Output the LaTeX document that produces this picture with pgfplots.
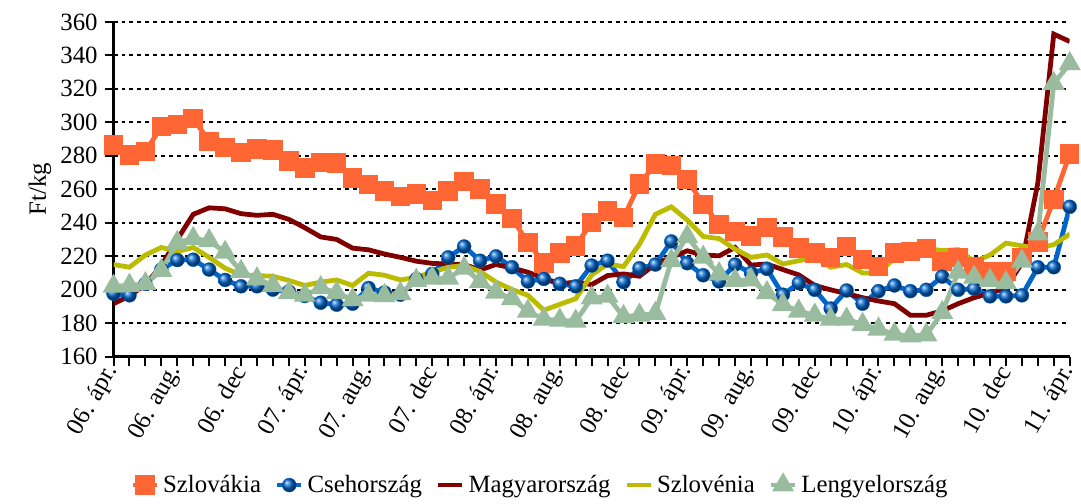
\documentclass[border=0pt]{standalone}
\usepackage{fontspec}
\setmainfont{Liberation Serif}
\usepackage{pgfplots}
\pgfplotsset{compat=1.18}
\definecolor{cSK}{RGB}{255,102,51}
\definecolor{cCZ}{RGB}{0,102,204}
\definecolor{cHU}{RGB}{128,0,0}
\definecolor{cSI}{RGB}{187,187,0}
\definecolor{cPL}{RGB}{153,187,158}
\begin{document}
\begin{tikzpicture}
\begin{axis}[width=480bp, height=168bp, scale only axis,
  font=\fontsize{12.5}{14}\selectfont,
  /pgf/number format/assume math mode=true,
  xmin=0, xmax=60, ymin=160, ymax=360,
  ytick={160,180,...,360},
  xtick={0,4,...,60},
  minor xtick={0,...,60},
  xticklabels={06. ápr.,06. aug.,06. dec,07. ápr.,07. aug.,07. dec,08. ápr.,08. aug.,08. dec,09. ápr.,09. aug.,09. dec,10. ápr.,10. aug.,10. dec,11. ápr.},
  xticklabel style={rotate=60, anchor=east, inner sep=1bp},
  axis x line=bottom, axis y line=left,
  axis line style={-, line width=1.1bp},
  every tick/.style={black, line width=1bp},
  every minor tick/.style={black, line width=1bp},
  major tick length=4.5bp, minor tick length=4.5bp, tick align=outside,
  ymajorgrids, grid style={black, dash pattern=on 2bp off 2bp, line width=1bp},
  ylabel={Ft/kg},
  ylabel style={at={(axis description cs:-0.077,0.5)}, anchor=center},
  legend style={at={(0.447,-0.384)}, anchor=center, legend columns=5, draw=none,
    font=\fontsize{12.5}{14}\selectfont,
    /tikz/every even column/.append style={column sep=5bp}},
  legend cell align=left,
  legend image code/.code={\draw[mark repeat=2, mark phase=2]
    plot coordinates {(0bp,0bp) (6bp,0bp) (12bp,0bp)};},
  every axis plot/.append style={line width=2.4bp}]
\addplot[cSK, mark=square*, mark size=3.7bp] coordinates {
(0,286.5) (1,280.6) (2,282.5) (3,297.4) (4,298.7) (5,302.3) (6,288.5) (7,284.9) (8,282) (9,284)
(10,283.5) (11,277) (12,272.6) (13,276) (14,275.6) (15,266.7) (16,262.8) (17,258.8) (18,255.8) (19,257)
(20,253.3) (21,259) (22,264.7) (23,260.2) (24,251.3) (25,242.6) (26,228.2) (27,216) (28,221.9) (29,226.2)
(30,240) (31,247) (32,243) (33,263.2) (34,275) (35,274.2) (36,265.7) (37,251) (38,239) (39,234.7)
(40,232) (41,237) (42,231.5) (43,225) (44,221.9) (45,219.3) (46,225.8) (47,217.9) (48,213.8) (49,222)
(50,222.7) (51,224.7) (52,216.7) (53,219.3) (54,213.4) (55,210.4) (56,210.8) (57,219.3) (58,228.6) (59,254)
(60,281)};
\addlegendentry{Szlovákia}
\addplot[cCZ, mark=ball, mark options={ball color=cCZ, line width=0.2bp}, mark size=3.5bp] coordinates {
(0,197.6) (1,196.6) (2,203.5) (3,212) (4,217.7) (5,217.9) (6,212) (7,205.8) (8,202) (9,202)
(10,200) (11,198.9) (12,196.2) (13,192.2) (14,191) (15,191.6) (16,201) (17,198.3) (18,197) (19,206.3)
(20,209.4) (21,219.3) (22,225.8) (23,217.3) (24,219.9) (25,213.4) (26,204.9) (27,206.4) (28,203.5) (29,202)
(30,214.4) (31,217.3) (32,204.5) (33,212.8) (34,215) (35,228.8) (36,215.8) (37,208.6) (38,204.9) (39,215)
(40,210) (41,212.4) (42,197) (43,203.9) (44,199.9) (45,188.7) (46,199.5) (47,191.6) (48,199.1) (49,202.5)
(50,199.1) (51,199.9) (52,207.8) (53,199.9) (54,200.5) (55,196) (56,196) (57,196.6) (58,213.4) (59,213.4)
(60,249.5)};
\addlegendentry{Csehország}
\addplot[cHU, mark=none] coordinates {
(0,191.6) (1,196.2) (2,203) (3,214.4) (4,230) (5,245) (6,248.9) (7,248.3) (8,245.4) (9,244.4)
(10,245) (11,242) (12,237) (13,231.5) (14,230) (15,224.8) (16,223.8) (17,221.3) (18,219.3) (19,217)
(20,215.7) (21,215.3) (22,215) (23,211.8) (24,215) (25,213) (26,210.4) (27,206.8) (28,203.5) (29,204.5)
(30,203) (31,208.4) (32,209.4) (33,208) (34,215.3) (35,219.3) (36,223.2) (37,220.7) (38,220.2) (39,225.2)
(40,214.7) (41,215.3) (42,212) (43,208.8) (44,202.5) (45,199.9) (46,197.6) (47,195.2) (48,193.2) (49,191.6)
(50,184.7) (51,184.7) (52,187.3) (53,191.6) (54,195.2) (55,197.9) (56,200.9) (57,216) (58,263.8) (59,352.7)
(60,348.3)};
\addlegendentry{Magyarország}
\addplot[cSI, mark=none] coordinates {
(0,215) (1,213.4) (2,220.7) (3,225.2) (4,222.8) (5,225.2) (6,219.3) (7,212.8) (8,208.8) (9,208.4)
(10,208) (11,205.5) (12,202.5) (13,204.5) (14,205.8) (15,202.5) (16,209.8) (17,208.6) (18,205.8) (19,207.4)
(20,210.4) (21,213.4) (22,214.4) (23,210.8) (24,204.5) (25,200.1) (26,196.6) (27,187.7) (28,191.2) (29,194.6)
(30,208.8) (31,215.3) (32,213.8) (33,227.1) (34,245) (35,249.5) (36,241.6) (37,231.8) (38,230.5) (39,224.2)
(40,219.3) (41,220.7) (42,215.3) (43,217.3) (44,219.3) (45,213.4) (46,215) (47,210) (48,210) (49,218.7)
(50,222.3) (51,224.7) (52,223.3) (53,223.9) (54,216.7) (55,220.7) (56,227.8) (57,226.2) (58,224.7) (59,226.9)
(60,233.2)};
\addlegendentry{Szlovénia}
\addplot[cPL, mark=triangle*, mark size=4bp] coordinates {
(0,202) (1,202.5) (2,203.5) (3,211.4) (4,228.2) (5,230.5) (6,229.2) (7,222.3) (8,210.8) (9,206.4)
(10,202.5) (11,198.1) (12,196.6) (13,201.1) (14,198.1) (15,194) (16,196.6) (17,196.4) (18,197.6) (19,205.5)
(20,206.8) (21,206.8) (22,212.8) (23,204.9) (24,198.5) (25,194.6) (26,187.1) (27,182.3) (28,181.7) (29,181.1)
(30,195) (31,196) (32,183.8) (33,184.7) (34,185.7) (35,217.3) (36,231.7) (37,219.3) (38,209.4) (39,205.5)
(40,205.8) (41,198.1) (42,191) (43,187.1) (44,184.7) (45,182.3) (46,182.3) (47,179.2) (48,176.4) (49,173.3)
(50,172.3) (51,172.9) (52,186.3) (53,210.4) (54,207.4) (55,205.5) (56,204.1) (57,217) (58,233.2) (59,323.2)
(60,335)};
\addlegendentry{Lengyelország}
\end{axis}
\path (current axis.south west) ++(-57bp,0) (current axis.north west) ++(0,11bp);
\end{tikzpicture}
\end{document}
